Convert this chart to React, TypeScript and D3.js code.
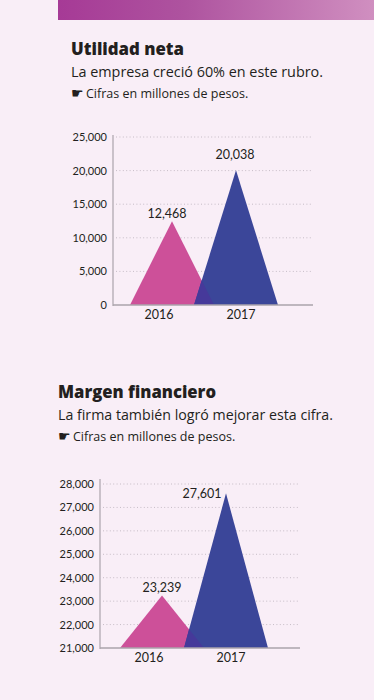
import React, { useId } from "react";
import * as d3 from "d3";

const categories = ["2016", "2017"];
const utilidadValues = [12468, 20038];
const margenValues = [23239, 27601];
const utilidadTicks = [0, 5000, 10000, 15000, 20000, 25000];
const margenTicks = [21000, 22000, 23000, 24000, 25000, 26000, 27000, 28000];
const colors = ["#cd5099", "#3b4699"];
const overlapColor = "#46399a";
const fmt = d3.format(",");
const sans = "'Open Sans', sans-serif";
const numFont = "Lato, sans-serif";
const ink = "#231f20";

type ChartProps = {
  values: number[]; ticks: number[]; domain: [number, number];
  left: number; right: number; top: number; bottom: number; axisTop: number;
  catY: number; centerA: number; step: number; halfBase: number[];
  labelOffsets: [number, number][];
};

function Chart({ values, ticks, domain, left, right, top, bottom, axisTop, catY, centerA, step, halfBase, labelOffsets }: ChartProps) {
  const clipId = useId().replace(/[^a-zA-Z0-9]/g, "");
  const y = d3.scaleLinear().domain(domain).range([bottom, top]);
  const x = d3.scalePoint<string>().domain(categories).range([centerA, centerA + step]);
  const line = d3.line<[number, number]>();
  const catShift = [-13, 5];
  const tri = categories.map((c, i) => {
    const cx = x(c)!;
    return line([[cx - halfBase[i], bottom], [cx, y(values[i])], [cx + halfBase[i], bottom]])! + "Z";
  });
  return (
    <g>
      <defs>
        <clipPath id={clipId}><path d={tri[1]} /></clipPath>
      </defs>
      {ticks.filter((t) => t !== domain[0]).map((t) => (
        <line key={t} x1={left + 3} x2={right} y1={y(t)} y2={y(t)} stroke="#c6bcc6" strokeWidth={1} strokeDasharray="1 2.4" />
      ))}
      <path d={tri[0]} fill={colors[0]} />
      <path d={tri[1]} fill={colors[1]} />
      <path d={tri[0]} fill={overlapColor} clipPath={`url(#${clipId})`} />
      <line x1={left} x2={left} y1={axisTop} y2={bottom + 1} stroke="#aaa3ab" strokeWidth={1.2} />
      <line x1={left} x2={right} y1={bottom} y2={bottom} stroke="#aaa3ab" strokeWidth={1.4} />
      {ticks.map((t) => (
        <text key={t} x={left - 6} y={y(t) + 4} textAnchor="end" fontFamily={numFont} fontSize={11} fill={ink}>{fmt(t)}</text>
      ))}
      {categories.map((c, i) => (
        <g key={c}>
          <text x={x(c)! + catShift[i]} y={catY} textAnchor="middle" fontFamily={numFont} fontSize={12.5} fill={ink}>{c}</text>
          <text x={x(c)! + labelOffsets[i][0]} y={y(values[i]) + labelOffsets[i][1]} textAnchor="middle" fontFamily={numFont} fontSize={12.5} fill={ink}>{fmt(values[i])}</text>
        </g>
      ))}
    </g>
  );
}

function Heading({ x, y, title, titleWidth, sub, subWidth, note }: { x: number; y: number; title: string; titleWidth: number; sub: string; subWidth: number; note: string }) {
  return (
    <g fill={ink}>
      <text x={x} y={y} fontFamily={sans} fontWeight={800} fontSize={18} textLength={titleWidth} lengthAdjust="spacingAndGlyphs">{title}</text>
      <text x={x} y={y + 22} fontFamily={sans} fontSize={14} textLength={subWidth} lengthAdjust="spacingAndGlyphs">{sub}</text>
      <text x={x} y={y + 43} fontFamily="'DejaVu Sans', sans-serif" fontSize={14}>☛</text>
      <text x={x + 15} y={y + 43} fontFamily={sans} fontSize={12.5}>{note}</text>
    </g>
  );
}

export default function App() {
  return (
    <svg width={374} height={700} style={{ position: "absolute", left: 0, top: 0, display: "block" }}>
      <defs>
        <linearGradient id="band" x1="0" x2="1" y1="0" y2="0">
          <stop offset="0" stopColor="#a63a96" />
          <stop offset="0.4" stopColor="#ae539f" />
          <stop offset="1" stopColor="#d08fc0" />
        </linearGradient>
      </defs>
      <rect width={374} height={700} fill="#f9eef7" />
      <rect x={58} y={0} width={316} height={20} fill="url(#band)" />
      <Heading x={71} y={55} title="Utilidad neta" titleWidth={113} sub="La empresa creció 60% en este rubro." subWidth={252} note="Cifras en millones de pesos." />
      <Chart values={utilidadValues} ticks={utilidadTicks} domain={[0, 25000]} left={113} right={313} top={137} bottom={305} axisTop={135} catY={319} centerA={172} step={64} halfBase={[42, 42]} labelOffsets={[[-5, -3], [-1, -11]]} />
      <Heading x={58} y={398} title="Margen financiero" titleWidth={158} sub="La firma también logró mejorar esta cifra." subWidth={275} note="Cifras en millones de pesos." />
      <Chart values={margenValues} ticks={margenTicks} domain={[21000, 28000]} left={100} right={300} top={484} bottom={648} axisTop={479} catY={662} centerA={162} step={64} halfBase={[42, 42]} labelOffsets={[[0, -4], [-24, 5]]} />
    </svg>
  );
}
